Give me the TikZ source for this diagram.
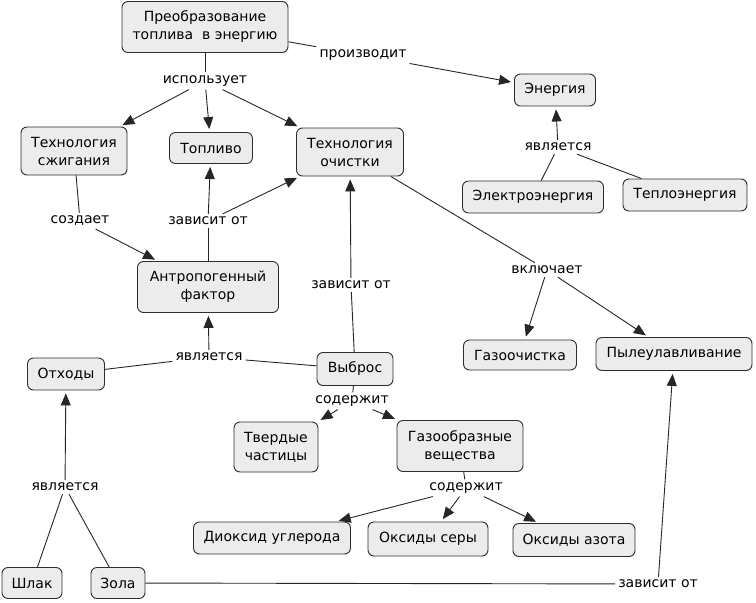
\documentclass[tikz,border=0pt]{standalone}
\usepackage{fontspec}
\setmainfont{DejaVu Sans}
\usetikzlibrary{arrows.meta}
\definecolor{boxfill}{RGB}{236,236,236}
\definecolor{boxline}{RGB}{45,45,45}

\begin{document}
\begin{tikzpicture}[x=1pt, y=-1pt,
  concept/.style={draw=boxline, fill=boxfill, rounded corners=6pt, line width=0.9pt, align=center, inner sep=3pt, minimum height=32pt, font=\fontsize{14}{18}\selectfont},
  link/.style={inner sep=3pt, font=\fontsize{14}{18}\selectfont},
  conn/.style={line width=0.9pt, draw=black!85},
  arr/.style={conn, -{Triangle[length=12pt, width=10pt]}, shorten >=3pt}]
  \useasboundingbox (0,0) rectangle (756,603);

  % Concepts
  \node[concept, minimum width=166pt, minimum height=51pt] (conv) at (205,27) {Преобразование\\топлива\ \ в энергию};
  \node[concept, minimum width=81pt] (energy) at (555,90) {Энергия};
  \node[concept, minimum width=106pt, minimum height=48pt] (burn) at (74,151) {Технология\\сжигания};
  \node[concept, minimum width=83pt, minimum height=31pt] (fuel) at (211,148) {Топливо};
  \node[concept, minimum width=107pt, minimum height=48pt] (clean) at (350,152) {Технология\\очистки};
  \node[concept, minimum width=141pt] (elec) at (533,197) {Электроэнергия};
  \node[concept, minimum width=124pt] (heat) at (685,195) {Теплоэнергия};
  \node[concept, minimum width=141pt, minimum height=51pt] (anthro) at (208,287) {Антропогенный\\фактор};
  \node[concept, minimum width=77pt] (waste) at (66,374) {Отходы};
  \node[concept, minimum width=76pt, minimum height=33pt] (emis) at (355,369) {Выброс};
  \node[concept, minimum width=113pt, minimum height=30pt] (gas) at (520,355) {Газоочистка};
  \node[concept, minimum width=156pt, minimum height=33pt] (dust) at (674,354) {Пылеулавливание};
  \node[concept, minimum width=84pt, minimum height=50pt] (solid) at (276,447) {Твердые\\частицы};
  \node[concept, minimum width=126pt, minimum height=51pt] (gaseous) at (460,446) {Газообразные\\вещества};
  \node[concept, minimum width=157pt] (co2) at (272,538) {Диоксид углерода};
  \node[concept, minimum width=120pt, minimum height=34pt] (sox) at (428,539) {Оксиды серы};
  \node[concept, minimum width=122pt, minimum height=33pt] (nox) at (574,540) {Оксиды азота};
  \node[concept, minimum width=60pt, minimum height=31pt] (slag) at (32,583) {Шлак};
  \node[concept, minimum width=54pt, minimum height=31pt] (ash) at (118,583) {Зола};

  % Linking phrases
  \node[link] (lprod) at (363,55) {производит};
  \node[link] (luse) at (205,81) {использует};
  \node[link] (lisen) at (558,147) {является};
  \node[link] (lcreate) at (80,221) {создает};
  \node[link] (ldepfuel) at (208,221) {зависит от};
  \node[link] (ldepclean) at (351,285) {зависит от};
  \node[link] (lincl) at (547,270) {включает};
  \node[link] (lisanthro) at (209,357) {является};
  \node[link] (lcontemis) at (352,401) {содержит};
  \node[link] (liswaste) at (65,487) {является};
  \node[link] (lcontgas) at (466,488) {содержит};
  \node[link] (ldepdust) at (658,584) {зависит от};

  % Connectors
  \draw[conn] (conv) -- (lprod);
  \draw[arr] (lprod) -- (energy);
  \draw[conn] (conv) -- (luse);
  \foreach \t in {burn,fuel,clean}
    \draw[arr] (luse) -- (\t);
  \draw[conn] (elec) -- (lisen);
  \draw[conn] (heat) -- (lisen);
  \draw[arr] (lisen) -- (energy);
  \draw[conn] (burn) -- (lcreate);
  \draw[arr] (lcreate) -- (anthro);
  \draw[conn] (anthro) -- (ldepfuel);
  \draw[arr] (ldepfuel) -- (fuel);
  \draw[arr] (ldepfuel) -- (clean);
  \draw[conn] (emis) -- (ldepclean);
  \draw[arr] (ldepclean) -- (clean);
  \draw[conn] (clean) -- (lincl);
  \draw[arr] (lincl) -- (gas);
  \draw[arr] (lincl) -- (dust);
  \draw[conn] (waste) -- (lisanthro);
  \draw[conn] (emis) -- (lisanthro);
  \draw[arr] (lisanthro) -- (anthro);
  \draw[conn] (emis) -- (lcontemis);
  \draw[arr] (lcontemis) -- (solid);
  \draw[arr] (lcontemis) -- (gaseous);
  \draw[conn] (slag) -- (liswaste);
  \draw[conn] (ash) -- (liswaste);
  \draw[arr] (liswaste) -- (waste);
  \draw[conn] (gaseous) -- (lcontgas);
  \foreach \t in {co2,sox,nox}
    \draw[arr] (lcontgas) -- (\t);
  \draw[conn] (ash) -- (ldepdust);
  \draw[arr] (ldepdust) -- (dust);
\end{tikzpicture}
\end{document}
